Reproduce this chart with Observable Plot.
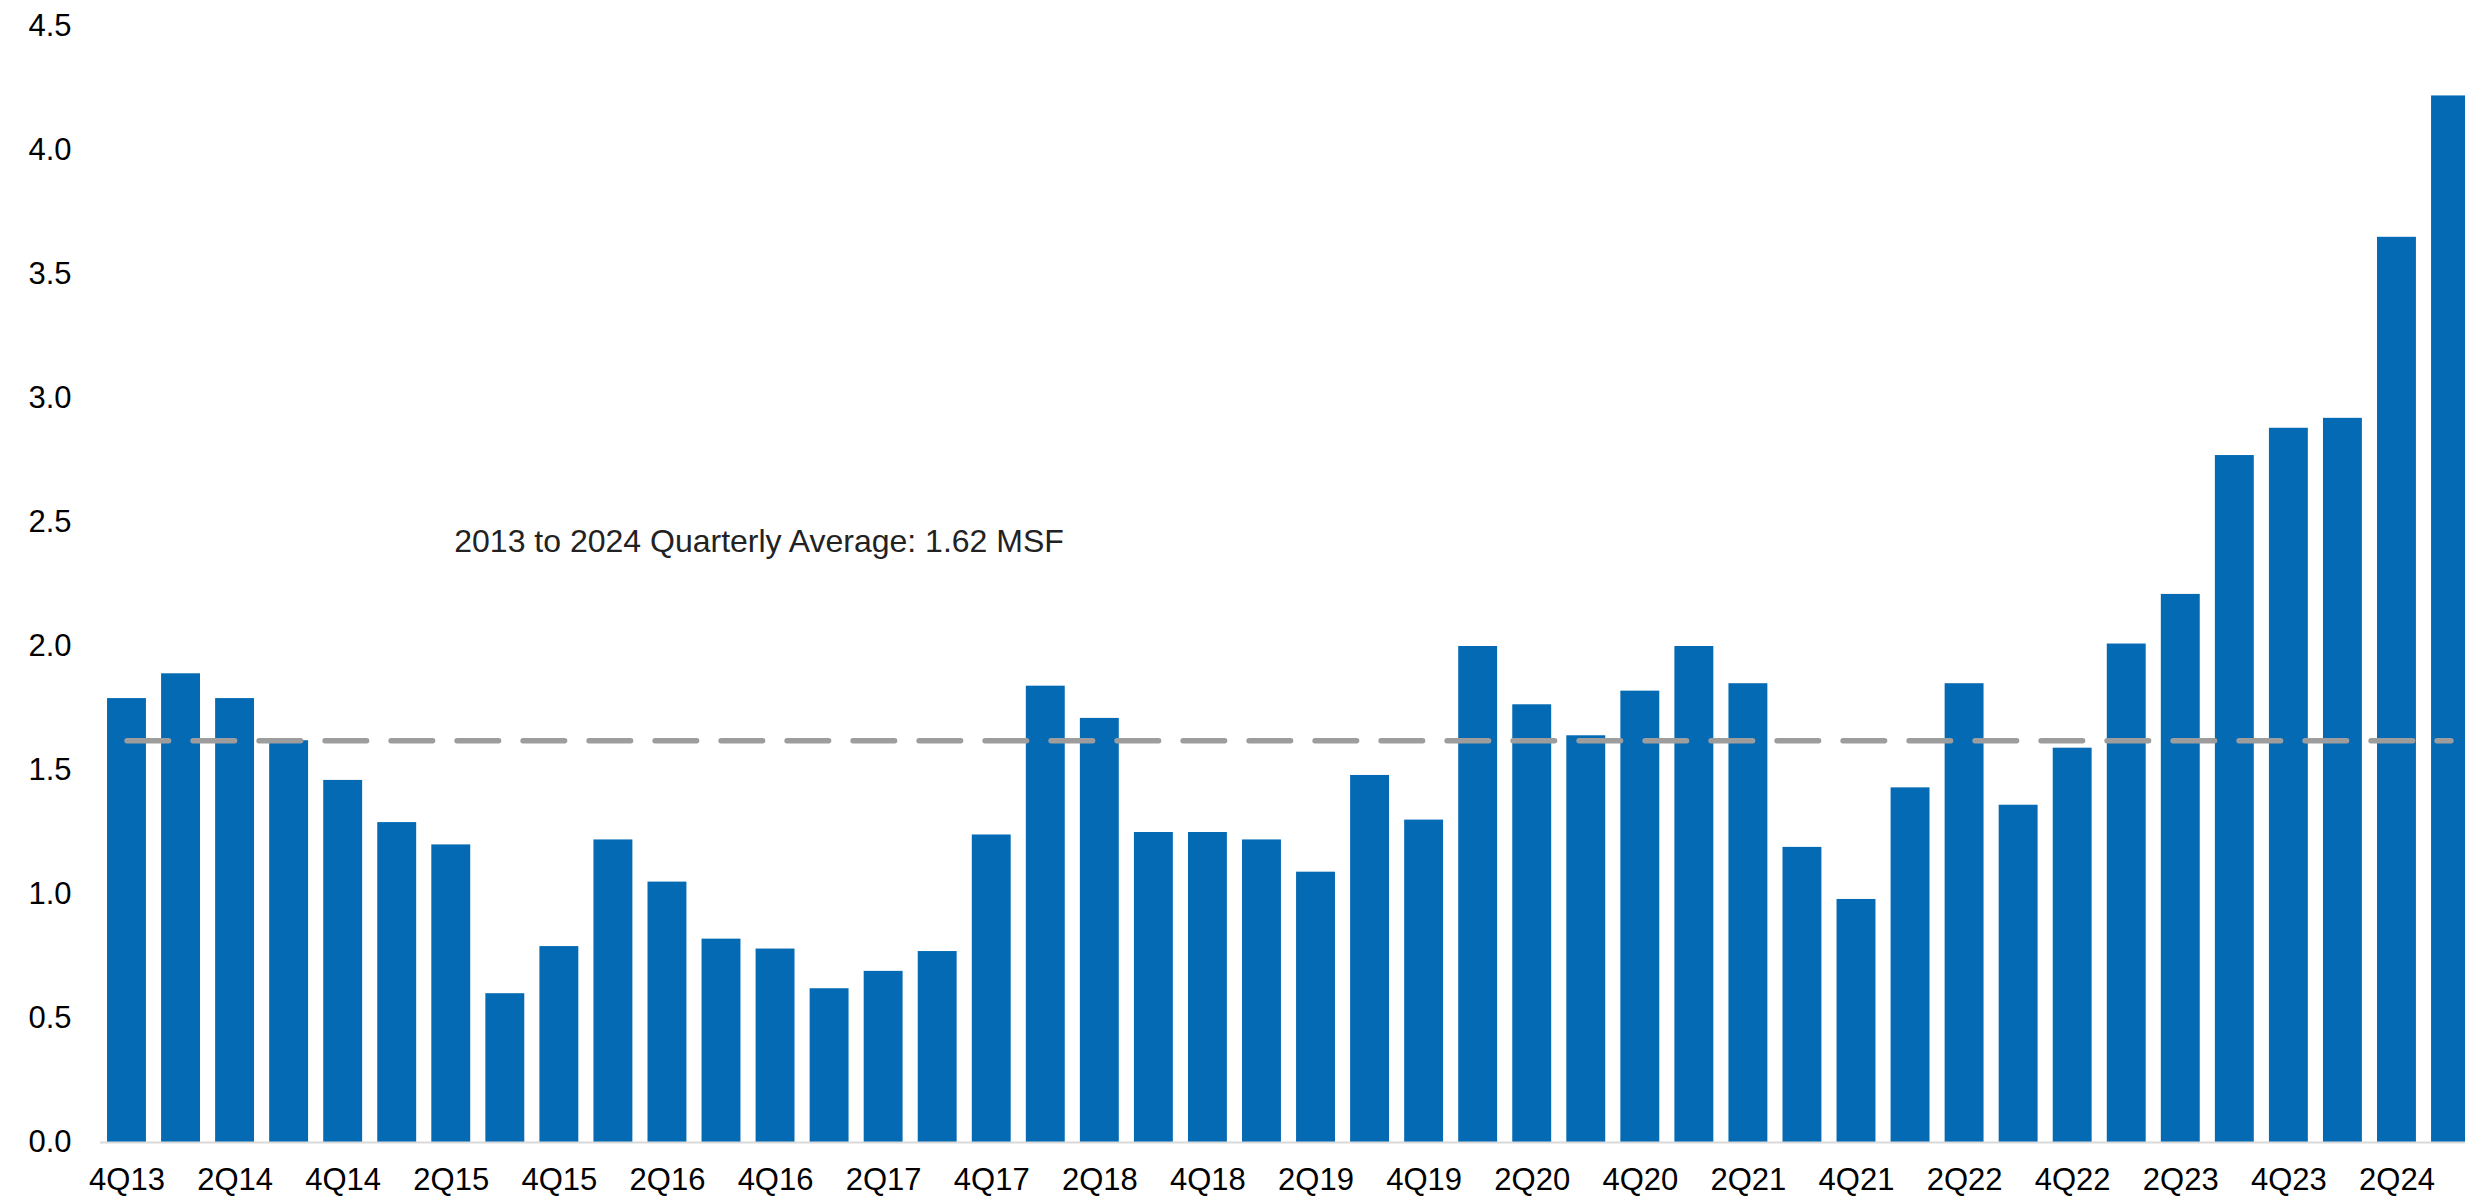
<!DOCTYPE html>
<html>
<head>
<meta charset="utf-8">
<script src="https://cdn.jsdelivr.net/npm/d3@7"></script>
<script src="https://cdn.jsdelivr.net/npm/@observablehq/plot@0.6"></script>
<style>
  html, body { margin: 0; padding: 0; background: #fff; overflow: hidden; }
  #chart { width: 2465px; height: 1196px; overflow: hidden; }
  #chart svg { max-width: none !important; }
</style>
</head>
<body>
<div id="chart"></div>
<script>
const quarters = [
  "4Q13","1Q14","2Q14","3Q14","4Q14","1Q15","2Q15","3Q15","4Q15","1Q16","2Q16","3Q16",
  "4Q16","1Q17","2Q17","3Q17","4Q17","1Q18","2Q18","3Q18","4Q18","1Q19","2Q19","3Q19",
  "4Q19","1Q20","2Q20","3Q20","4Q20","1Q21","2Q21","3Q21","4Q21","1Q22","2Q22","3Q22",
  "4Q22","1Q23","2Q23","3Q23","4Q23","1Q24","2Q24","3Q24"
];
const values = [
  1.79, 1.89, 1.79, 1.62, 1.46, 1.29, 1.20, 0.60, 0.79, 1.22, 1.05, 0.82,
  0.78, 0.62, 0.69, 0.77, 1.24, 1.84, 1.71, 1.25, 1.25, 1.22, 1.09, 1.48,
  1.30, 2.00, 1.765, 1.64, 1.82, 2.00, 1.85, 1.19, 0.98, 1.43, 1.85, 1.36,
  1.59, 2.01, 2.21, 2.77, 2.88, 2.92, 3.65, 4.22
];
const xTickLabels = ["4Q13","2Q14","4Q14","2Q15","4Q15","2Q16","4Q16","2Q17","4Q17","2Q18","4Q18",
  "2Q19","4Q19","2Q20","4Q20","2Q21","4Q21","2Q22","4Q22","2Q23","4Q23","2Q24"];
const yTicks = [0, 0.5, 1.0, 1.5, 2.0, 2.5, 3.0, 3.5, 4.0, 4.5];
const average = 1.62;
const annotation = ["2013 to 2024 Quarterly Average: 1.62 MSF"];
const annotationQuarter = "2Q15";
const annotationY = 2.424;

const data = quarters.map((q, i) => ({quarter: q, value: values[i]}));

const chart = Plot.plot({
  width: 2477,
  height: 1196,
  marginLeft: 100,
  marginRight: 0,
  marginTop: 26,
  marginBottom: 54,
  style: {
    fontFamily: "'Liberation Sans', Arial, sans-serif",
    fontSize: "31px",
    color: "#000",
    background: "#fff",
    overflow: "visible",
    maxWidth: "none"
  },
  x: {domain: quarters, paddingInner: 0.28, paddingOuter: 0.13, round: false, label: null},
  y: {domain: [0, 4.5], label: null},
  marks: [
    Plot.barY(data, {x: "quarter", y: "value", fill: "#056AB4"}),
    Plot.ruleY([0], {stroke: "#d9d9d9", strokeWidth: 2}),
    Plot.lineY(quarters, {x: d => d, y: () => average, stroke: "#9d9d9d", strokeWidth: 5.3,
      strokeDasharray: "41.7 24.3", strokeLinecap: "round"}),
    Plot.text(annotation, {x: () => annotationQuarter, y: () => annotationY, text: d => d,
      textAnchor: "start", dx: 3, fontSize: 32, fill: "#222"}),
    Plot.axisY({ticks: yTicks, tickFormat: d3.format(".1f"), tickSize: 0, tickPadding: 29,
      fontSize: 31, fill: "#000"}),
    Plot.axisX({ticks: xTickLabels, tickSize: 0, tickPadding: 25, fontSize: 31, fill: "#000"})
  ]
});
document.getElementById("chart").appendChild(chart);
</script>
</body>
</html>
